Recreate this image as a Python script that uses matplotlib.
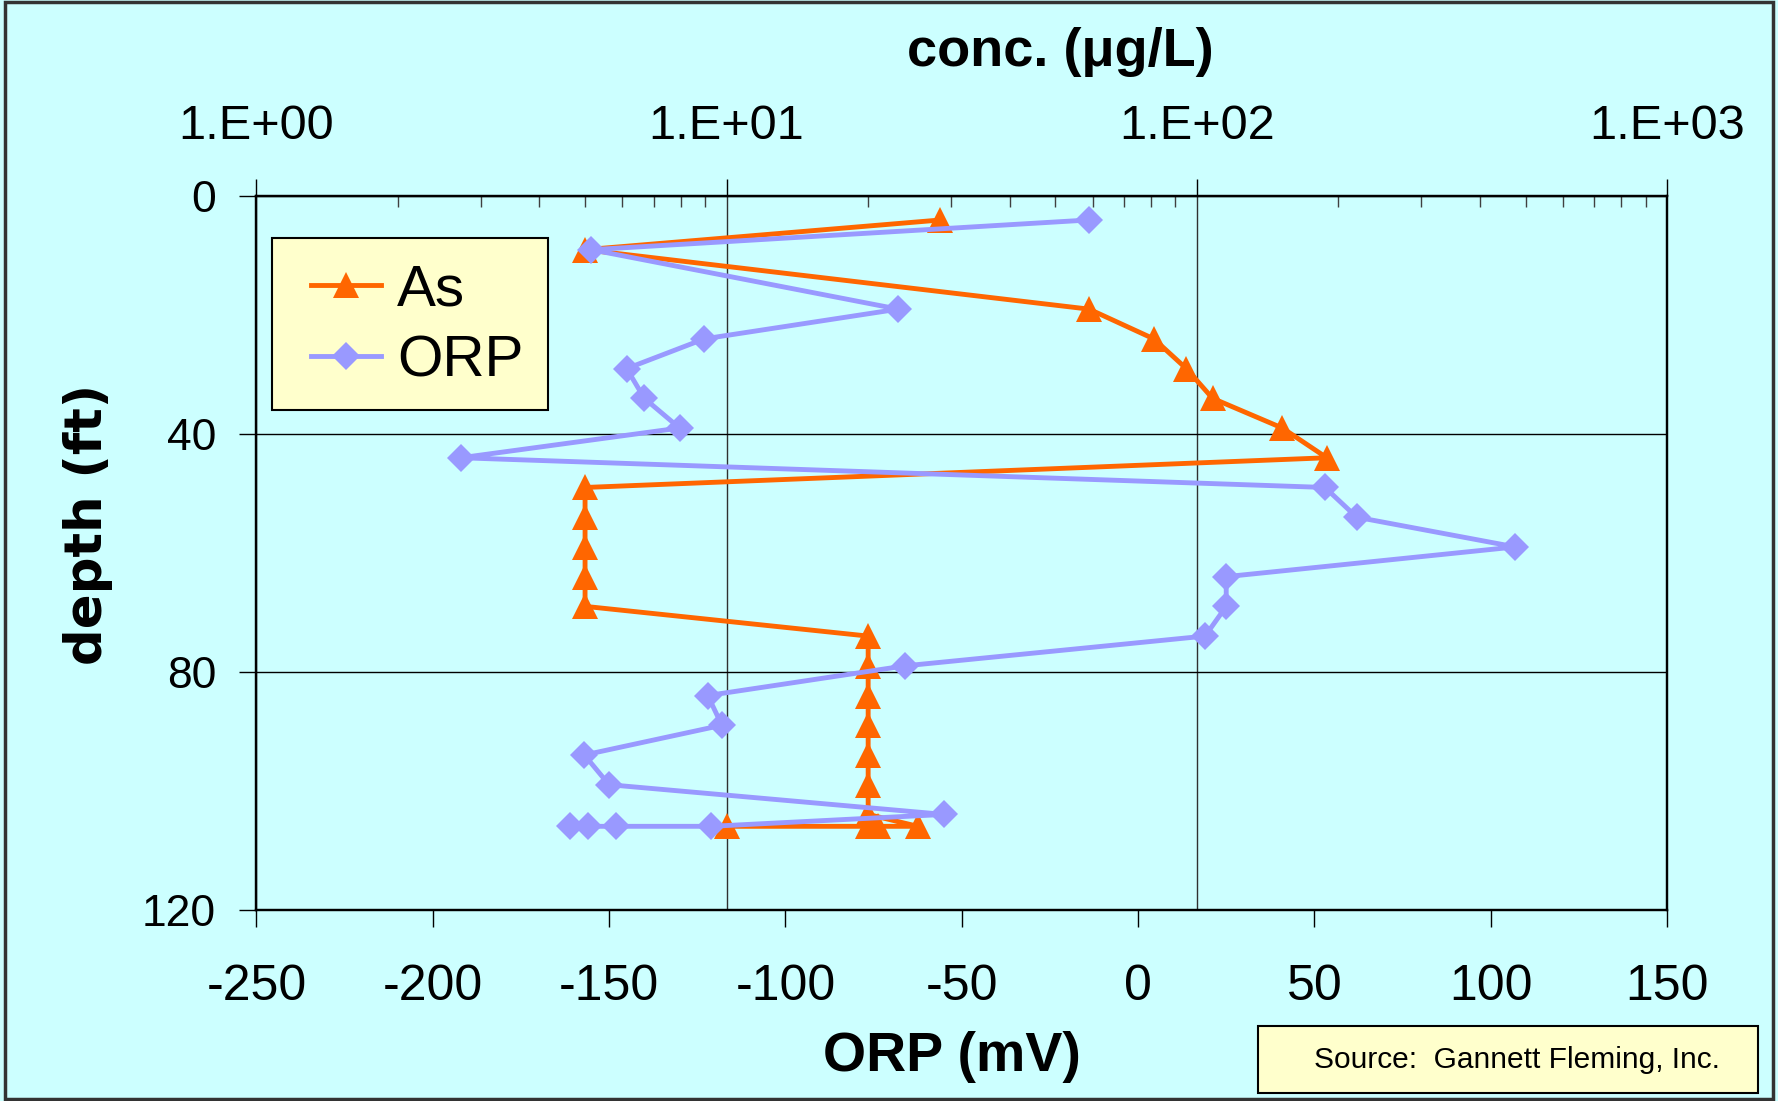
import matplotlib
matplotlib.use("Agg")
import matplotlib.pyplot as plt
from matplotlib.ticker import LogLocator, NullFormatter
from matplotlib.patches import Rectangle

plt.rcParams['font.family'] = ['Liberation Sans', 'DejaVu Sans']
plt.rcParams['axes.unicode_minus'] = False

# arsenic profile: depth (ft) and concentration (ug/L)
as_depth = [4, 9, 19, 24, 29, 34, 39, 44, 49, 54, 59, 64, 69, 74, 79, 84, 89, 94,
            99, 104, 106, 106, 106, 106]
as_conc = [28.5, 5.0, 59, 81, 95, 108, 152, 189, 5.0, 5.0, 5.0, 5.0, 5.0, 20, 20,
           20, 20, 20, 20, 20, 25.5, 21, 20, 10]

# ORP profile: depth (ft) and ORP (mV)
orp_depth = [4, 9, 19, 24, 29, 34, 39, 44, 49, 54, 59, 64, 69, 74, 79, 84, 89, 94,
             99, 104, 106, 106, 106, 106]
orp_mv = [-14, -155, -68, -123, -145, -140, -130, -192, 53, 62, 107, 25, 25, 19,
          -66, -122, -118, -157, -150, -55, -121, -148, -156, -161]

conc_ticks = [1, 10, 100, 1000]
conc_labels = ["1.E+00", "1.E+01", "1.E+02", "1.E+03"]
orp_ticks = [-250, -200, -150, -100, -50, 0, 50, 100, 150]
depth_ticks = [0, 40, 80, 120]

bg = "#CCFFFF"
orange = "#FF6600"
lilac = "#9999FF"

fig = plt.figure(figsize=(17.78, 11.01), dpi=100, facecolor=bg)
ax = fig.add_axes([0.1442, 0.1739, 0.7934, 0.6479])
ax.set_facecolor(bg)
ax2 = ax.twiny()

# concentration axis (log, on top)
ax.set_xscale("log")
ax.set_xlim(1, 1000)
ax.set_ylim(120, 0)
ax.xaxis.tick_top()
ax.set_xticks(conc_ticks)
ax.set_xticklabels(conc_labels)
ax.xaxis.set_minor_locator(LogLocator(base=10, subs=range(2, 10)))
ax.xaxis.set_minor_formatter(NullFormatter())
ax.set_yticks(depth_ticks)
ax.tick_params(axis="x", which="major", direction="out", length=12, width=1,
               labelsize=35, pad=22, top=True, bottom=False,
               labeltop=True, labelbottom=False)
ax.tick_params(axis="x", which="minor", direction="in", length=8, width=1,
               color="#404040", top=True, bottom=False)
ax.tick_params(axis="y", direction="out", length=12, width=1, labelsize=32, pad=17)
ax.xaxis.grid(True, which="major", color="#303030", lw=1)
ax.yaxis.grid(True, color="black", lw=1)
ax.set_axisbelow(True)
h_as, = ax.plot(as_conc, as_depth, color=orange, lw=3.5, marker="^",
                markersize=19, markeredgewidth=0, label="As")

# ORP axis (linear, on bottom)
ax2.xaxis.tick_bottom()
ax2.set_xlim(-250, 150)
ax2.set_xticks(orp_ticks)
ax2.tick_params(axis="x", direction="out", length=12, width=1, labelsize=36, pad=27,
                top=False, bottom=True, labeltop=False, labelbottom=True)
h_orp, = ax2.plot(orp_mv, orp_depth, color=lilac, lw=3.5, marker="D",
                  markersize=14, markeredgewidth=0, label="ORP")

for a in (ax, ax2):
    for s in a.spines.values():
        s.set_linewidth(1.6)
        s.set_color("black")

# legend box drawn separately so its padding can match
ax2.add_patch(Rectangle((0.0111, 0.7003), 0.1957, 0.2411, transform=ax2.transAxes,
                        facecolor="#FFFFCC", edgecolor="black", lw=1.5, zorder=8))
leg = ax2.legend([h_as, h_orp], ["As", "ORP"], loc="center left",
                 bbox_to_anchor=(0.0385, 0.818), fontsize=42, frameon=False,
                 borderpad=0, labelspacing=0.3, handlelength=1.2,
                 handletextpad=0.28, borderaxespad=0)
leg.set_zorder(9)

fig.text(1060 / 1778, 1 - 52 / 1101, "conc. (\u03bcg/L)", ha="center", va="center",
         fontsize=39, fontweight="bold")
fig.text(952 / 1778, 1 - 1057 / 1101, "ORP (mV)", ha="center", va="center",
         fontsize=40, fontweight="bold")
fig.text(88 / 1778, 1 - 524 / 1101, "depth (ft)", ha="center", va="center",
         rotation=90, fontsize=37, fontweight="bold", family="DejaVu Sans")

# source box
fig.add_artist(Rectangle((1258 / 1778, 1 - 1093 / 1101), 500 / 1778, 67 / 1101,
                         transform=fig.transFigure, facecolor="#FFFFCC",
                         edgecolor="black", lw=1.5))
fig.text(1314 / 1778, 1 - 1060 / 1101, "Source:  Gannett Fleming, Inc.",
         ha="left", va="center", fontsize=21.5)

# outer chart border
fig.add_artist(Rectangle((5 / 1778, 2 / 1101), 1768 / 1778, 1097 / 1101,
                         transform=fig.transFigure, fill=False,
                         edgecolor="#333333", lw=2.5))

fig.savefig("out.png", dpi=100, facecolor=bg)
